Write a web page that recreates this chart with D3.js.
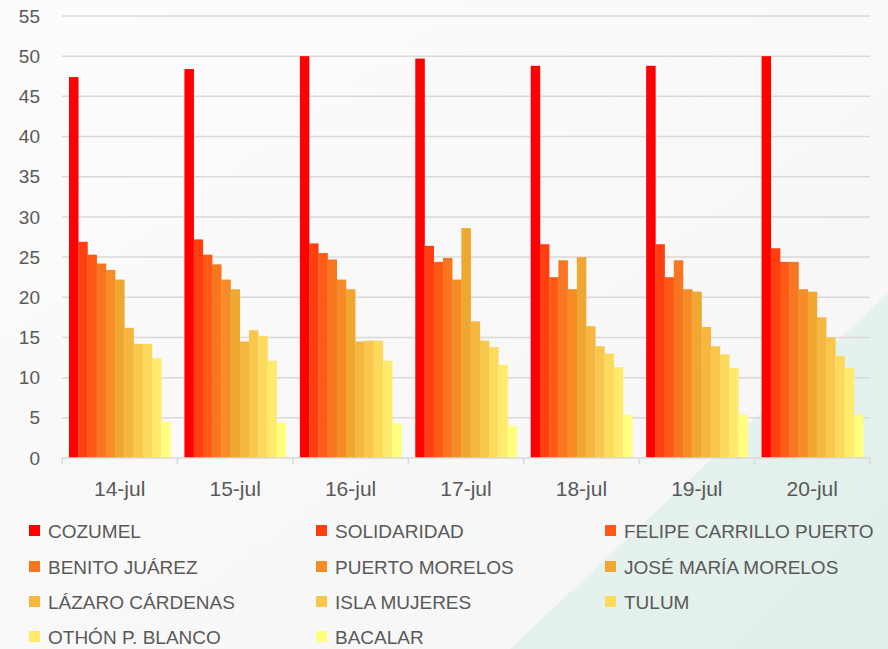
<!DOCTYPE html>
<html><head><meta charset="utf-8">
<script src="https://cdn.jsdelivr.net/npm/d3@7"></script>
<style>
html,body{margin:0;padding:0;background:#fafafa;}
svg{display:block;}
</style></head>
<body><svg id="c" width="888" height="649"></svg>
<script>
const categories = ["14-jul","15-jul","16-jul","17-jul","18-jul","19-jul","20-jul"];
const seriesNames = ["COZUMEL","SOLIDARIDAD","FELIPE CARRILLO PUERTO","BENITO JUÁREZ","PUERTO MORELOS","JOSÉ MARÍA MORELOS","LÁZARO CÁRDENAS","ISLA MUJERES","TULUM","OTHÓN P. BLANCO","BACALAR"];
const seriesColors = ["#FF0000","#FF3F0F","#FE5A16","#F8761F","#F68B27","#F0A732","#F5B73F","#F9C74E","#FCDA5C","#FFEA6C","#FFFF7D"];
const cozumel      = [47.4, 48.4, 50.0, 49.7, 48.8, 48.8, 50.0];
const solidaridad  = [26.9, 27.2, 26.7, 26.4, 26.6, 26.6, 26.1];
const felipe       = [25.3, 25.3, 25.5, 24.4, 22.5, 22.5, 24.4];
const benito       = [24.2, 24.1, 24.7, 24.9, 24.6, 24.6, 24.4];
const puertoMor    = [23.4, 22.2, 22.2, 22.2, 21.0, 21.0, 21.0];
const joseMaria    = [22.2, 21.0, 21.0, 28.6, 25.0, 20.7, 20.7];
const lazaro       = [16.2, 14.5, 14.5, 17.0, 16.4, 16.3, 17.5];
const isla         = [14.2, 15.9, 14.6, 14.6, 13.9, 13.9, 15.0];
const tulum        = [14.2, 15.2, 14.6, 13.8, 13.0, 12.9, 12.7];
const othon        = [12.4, 12.1, 12.1, 11.6, 11.3, 11.2, 11.2];
const bacalar      = [4.5, 4.4, 4.3, 4.0, 5.4, 5.4, 5.4];
const yTicks = [0,5,10,15,20,25,30,35,40,45,50,55];

const seriesValues = [cozumel, solidaridad, felipe, benito, puertoMor, joseMaria, lazaro, isla, tulum, othon, bacalar];

const svg = d3.select("#c");
const W = 888, H = 649;

// background
const defs = svg.append("defs");
const g0 = defs.append("linearGradient").attr("id","bg").attr("x1","0").attr("y1","0").attr("x2","1").attr("y2","1");
g0.append("stop").attr("offset","0").attr("stop-color","#fcfcfc");
g0.append("stop").attr("offset","1").attr("stop-color","#f5f5f5");
svg.append("rect").attr("width",W).attr("height",H).attr("fill","url(#bg)");
const g1 = defs.append("linearGradient").attr("id","gr").attr("x1","0").attr("y1","0").attr("x2","1").attr("y2","1");
g1.append("stop").attr("offset","0").attr("stop-color","#e7f3ef");
g1.append("stop").attr("offset","1").attr("stop-color","#e1efe9");
svg.append("path").attr("d","M510,649 L888,293 L888,649 Z").attr("fill","url(#gr)");

const pLeft = 62, pRight = 870, pTop = 16, pBottom = 458;
const x0 = d3.scaleBand().domain(categories).range([pLeft, pRight]).padding(0);
const y = d3.scaleLinear().domain([0,55]).range([pBottom, pTop]);
const innerPad = 7;
const x1 = d3.scaleBand().domain(d3.range(seriesNames.length)).range([innerPad, x0.bandwidth()-innerPad]).padding(0);

// gridlines
svg.append("g").selectAll("line").data(yTicks.filter(d=>d>0)).join("line")
  .attr("x1",pLeft).attr("x2",pRight).attr("y1",d=>y(d)).attr("y2",d=>y(d))
  .attr("stroke","#d9d9d9").attr("stroke-width",1.5);

// y labels
svg.append("g").selectAll("text").data(yTicks).join("text")
  .attr("x",40).attr("y",d=>y(d)).attr("dy","0.35em").attr("text-anchor","end")
  .attr("font-family","Liberation Sans, Arial, sans-serif").attr("font-size",19).attr("fill","#595959")
  .text(d=>d);

// bars
const groups = svg.append("g").selectAll("g").data(categories).join("g")
  .attr("transform",d=>`translate(${x0(d)},0)`);
groups.selectAll("rect").data((d,i)=>seriesValues.map((s,k)=>({k, v:s[i]}))).join("rect")
  .attr("x",d=>x1(d.k)).attr("width",x1.bandwidth()+0.3)
  .attr("y",d=>y(d.v)).attr("height",d=>y(0)-y(d.v))
  .attr("fill",d=>seriesColors[d.k]);

// x axis
const xAxis = svg.append("g").attr("transform",`translate(0,${pBottom})`);
xAxis.append("line").attr("x1",pLeft).attr("x2",pRight).attr("y1",0).attr("y2",0).attr("stroke","#d9d9d9").attr("stroke-width",1.5);
const bounds = categories.map(c=>x0(c)).concat([pRight]);
xAxis.selectAll("line.t").data(bounds).join("line").attr("class","t")
  .attr("x1",d=>d).attr("x2",d=>d).attr("y1",0).attr("y2",6).attr("stroke","#d9d9d9").attr("stroke-width",1.5);
xAxis.selectAll("text").data(categories).join("text")
  .attr("x",d=>x0(d)+x0.bandwidth()/2).attr("y",38).attr("text-anchor","middle")
  .attr("font-family","Liberation Sans, Arial, sans-serif").attr("font-size",21).attr("fill","#595959")
  .text(d=>d);

// legend
const colX = [29, 316, 605];
const rowY = [531, 567, 602, 637];
const leg = svg.append("g").selectAll("g").data(seriesNames).join("g")
  .attr("transform",(d,i)=>`translate(${colX[i%3]},${rowY[Math.floor(i/3)]})`);
leg.append("rect").attr("x",0).attr("y",-6).attr("width",11).attr("height",11).attr("fill",(d,i)=>seriesColors[i]);
leg.append("text").attr("x",19).attr("y",0).attr("dy","0.35em")
  .attr("font-family","Liberation Sans, Arial, sans-serif").attr("font-size",19).attr("fill","#595959")
  .text(d=>d);
</script></body></html>
